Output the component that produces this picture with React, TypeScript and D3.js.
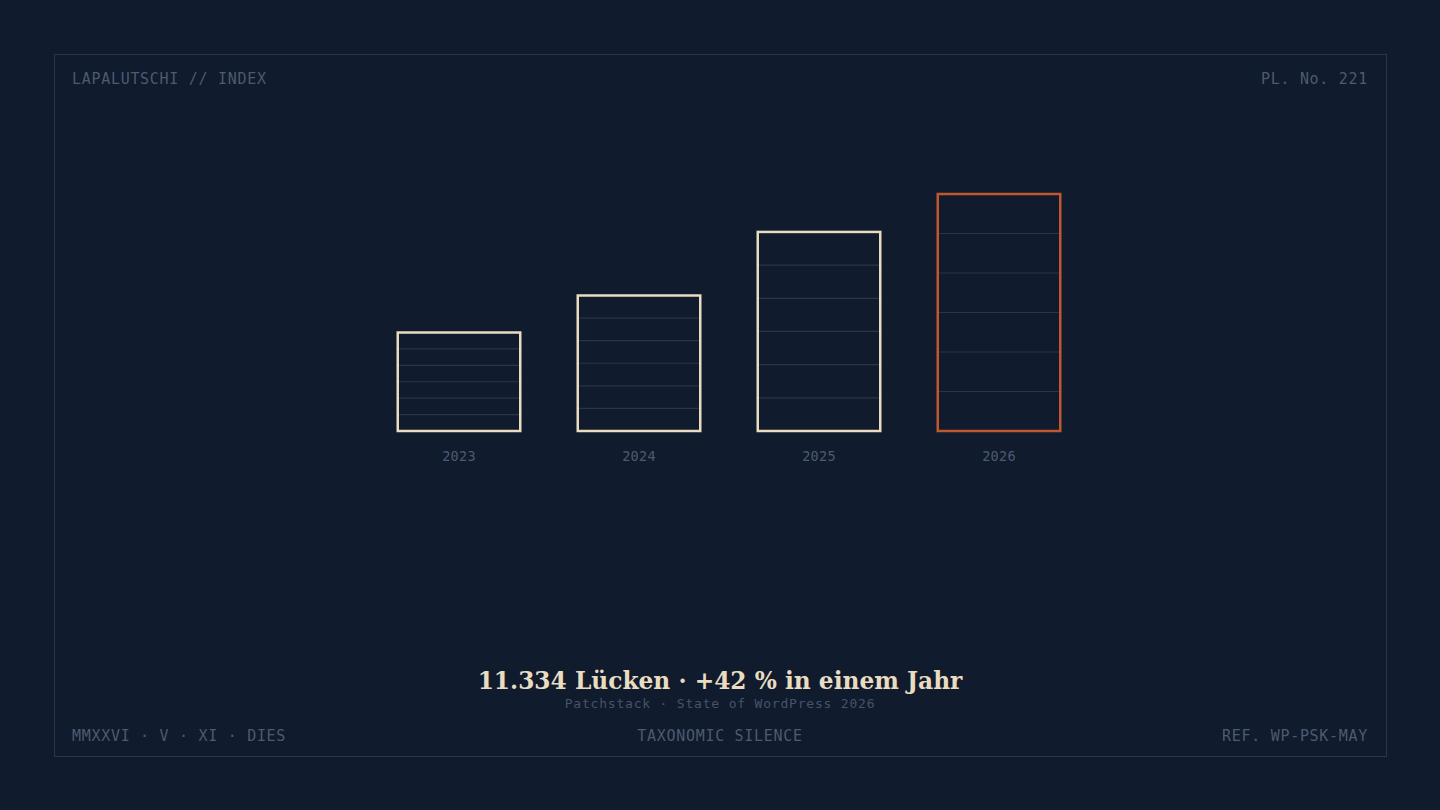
import React from 'react';
import * as d3 from 'd3';

// values (the last one is the headline number)
const years = ['2023', '2024', '2025', '2026'];
const counts = [4710, 6480, 9520, 11334];
const segments = 6;

const cornerLabels = ['LAPALUTSCHI // INDEX', 'PL. No. 221'];
const footerLabels = ['MMXXVI · V · XI · DIES', 'TAXONOMIC SILENCE', 'REF. WP-PSK-MAY'];
const headline = '11.334 Lücken · +42 % in einem Jahr';
const source = 'Patchstack · State of WordPress 2026';

const BG = '#101b2d';
const CREAM = '#e9dcc0';
const RUST = '#c0572f';
const MUTED = '#4d5a70';
const GRID = '#2a3547';
const MONO = '"DejaVu Sans Mono", "Liberation Mono", monospace';
const SERIF = '"DejaVu Serif", "Liberation Serif", serif';

export default function App() {
  const width = 1440;
  const height = 810;
  const barW = 125;

  const x = d3.scalePoint<string>().domain(years).range([459, 999]);
  const y = d3.scaleLinear().domain([0, d3.max(counts) as number]).range([431, 194]);

  return (
    <svg
      width={width}
      height={height}
      style={{ position: 'absolute', left: 0, top: 0, background: BG, display: 'block' }}
    >
      <rect x={0} y={0} width={width} height={height} fill={BG} />
      <rect x={54.5} y={54.5} width={1332} height={702} fill="none" stroke={GRID} strokeWidth={1} />

      <g fontFamily={MONO} fontSize={15} fill={MUTED} letterSpacing={0.7}>
        <text x={72} y={84}>{cornerLabels[0]}</text>
        <text x={1368} y={84} textAnchor="end">{cornerLabels[1]}</text>
        <text x={72} y={741}>{footerLabels[0]}</text>
        <text x={720} y={741} textAnchor="middle">{footerLabels[1]}</text>
        <text x={1368} y={741} textAnchor="end">{footerLabels[2]}</text>
      </g>

      {years.map((yr, i) => {
        const cx = x(yr) as number;
        const top = y(counts[i]);
        const bottom = y(0);
        const h = bottom - top;
        const color = i === years.length - 1 ? RUST : CREAM;
        const lines = d3.range(1, segments).map(k => bottom - (h * k) / segments);
        return (
          <g key={yr}>
            {lines.map((ly, k) => (
              <line key={k} x1={cx - barW / 2} x2={cx + barW / 2} y1={ly} y2={ly} stroke={GRID} strokeWidth={1.2} />
            ))}
            <rect x={cx - barW / 2 + 1.25} y={top} width={barW - 2.5} height={h} fill="none" stroke={color} strokeWidth={2.5} />
            <text x={cx} y={461} textAnchor="middle" fontFamily={MONO} fontSize={13.5} fill={MUTED} letterSpacing={0.3}>
              {yr}
            </text>
          </g>
        );
      })}

      <text x={720} y={689} textAnchor="middle" fontFamily={SERIF} fontWeight="bold" fontSize={23.3} fill={CREAM}>
        {headline}
      </text>
      <text x={720} y={708} textAnchor="middle" fontFamily={MONO} fontSize={13} fill="#46536a" letterSpacing={0.8}>
        {source}
      </text>
    </svg>
  );
}
